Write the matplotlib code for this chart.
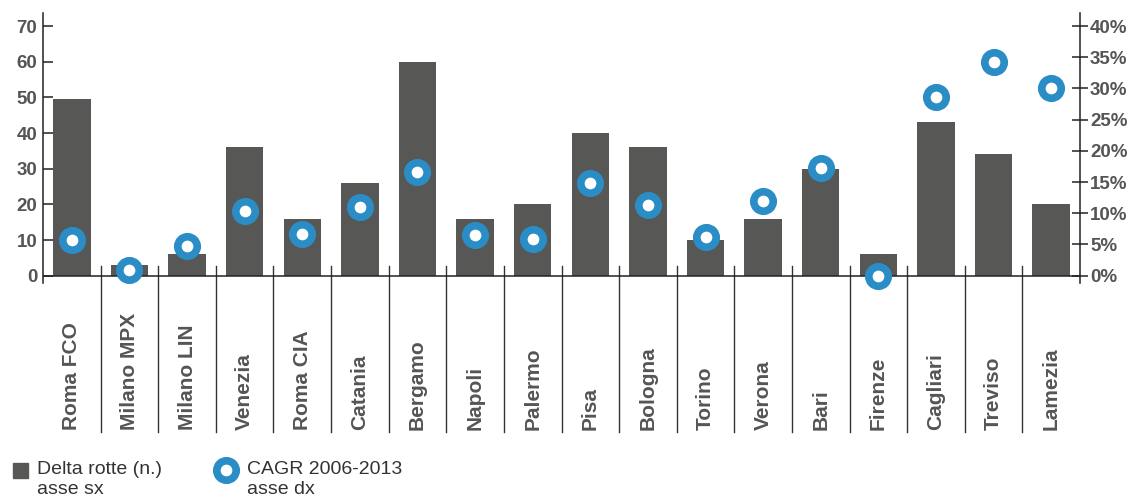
import matplotlib
matplotlib.use("Agg")
import matplotlib.pyplot as plt
from matplotlib.lines import Line2D

plt.rcParams['font.family'] = ['Liberation Sans', 'DejaVu Sans']

categories = ["Roma FCO", "Milano MPX", "Milano LIN", "Venezia", "Roma CIA", "Catania",
              "Bergamo", "Napoli", "Palermo", "Pisa", "Bologna", "Torino", "Verona",
              "Bari", "Firenze", "Cagliari", "Treviso", "Lamezia"]
delta_rotte = [49.5, 3, 6, 36, 16, 26, 60, 16, 20, 40, 36, 10, 16, 30, 6, 43, 34, 20]
cagr = [5.7, 0.9, 4.8, 10.4, 6.7, 11.0, 16.6, 6.5, 5.9, 14.9, 11.3, 6.2, 12.0, 17.3, 0.0, 28.6, 34.2, 30.1]
left_ticks = [0, 10, 20, 30, 40, 50, 60, 70]
right_ticks = [0, 5, 10, 15, 20, 25, 30, 35, 40]
right_labels = ["0%", "5%", "10%", "15%", "20%", "25%", "30%", "35%", "40%"]

BAR = "#575756"
BLUE = "#2a8dc5"
LBL = "#555555"
AX = "#222222"

W, H = 1130, 499
fig = plt.figure(figsize=(W / 100, H / 100), dpi=100)
ax = fig.add_axes([43 / W, (H - 282.8) / H, (1080 - 43) / W, (282.8 - 13.2) / H])
x = list(range(len(categories)))
ax.bar(x, delta_rotte, width=0.65, color=BAR, zorder=2)
ax.set_xlim(-0.5, len(categories) - 0.5)
ylo, yhi = -2, 73.6
ax.set_ylim(ylo, yhi)
ax.set_yticks(left_ticks)
ax.set_yticklabels([str(t) for t in left_ticks], fontsize=13.5, fontweight='bold', color=LBL)
ax.tick_params(axis='y', direction='in', length=7.5, width=1.1, color=AX, pad=4)
ax.set_xticks([])
for s in ['top', 'bottom', 'right']:
    ax.spines[s].set_visible(False)
ax.spines['left'].set_color(AX)
ax.spines['left'].set_linewidth(1.1)
ax.axhline(0, color=AX, lw=1.1, zorder=3)

# separators and category labels
for i in range(len(categories) - 1):
    ax.plot([i + 0.5, i + 0.5], [2.7, -43.8], color="#333333", lw=1.0, clip_on=False)
for i, c in enumerate(categories):
    ax.text(i, -43.3, c, rotation=90, ha='center', va='bottom', fontsize=15,
            fontweight='bold', color=LBL)

ax2 = ax.twinx()
ax2.set_ylim(ylo * 4 / 7, yhi * 4 / 7)
ax2.plot(x, cagr, linestyle='none', marker='o', markersize=14, markeredgewidth=5.5,
         markerfacecolor='white', markeredgecolor=BLUE, zorder=5, clip_on=False)
ax2.set_yticks(right_ticks)
ax2.set_yticklabels(right_labels, fontsize=13.5, fontweight='bold', color=LBL)
ax2.tick_params(axis='y', direction='inout', length=11, width=1.1, color=AX, pad=1.7)
for s in ['top', 'bottom', 'left']:
    ax2.spines[s].set_visible(False)
ax2.spines['right'].set_color(AX)
ax2.spines['right'].set_linewidth(1.1)

# legend
fig.add_artist(Line2D([19.5 / W], [(H - 469.5) / H], marker='s', markersize=10.8,
                      color=BAR, linestyle='none', transform=fig.transFigure))
fig.text(37 / W, (H - 461.5) / H, "Delta rotte (n.)\nasse sx", ha='left', va='top',
         fontsize=14, color="#333333", linespacing=1.2)
fig.add_artist(Line2D([226 / W], [(H - 469.5) / H], marker='o', markersize=14,
                      markeredgewidth=5.5, markerfacecolor='white', markeredgecolor=BLUE,
                      linestyle='none', transform=fig.transFigure))
fig.text(247 / W, (H - 461.5) / H, "CAGR 2006-2013\nasse dx", ha='left', va='top',
         fontsize=14, color="#333333", linespacing=1.2)

fig.savefig("out.png", dpi=100)
